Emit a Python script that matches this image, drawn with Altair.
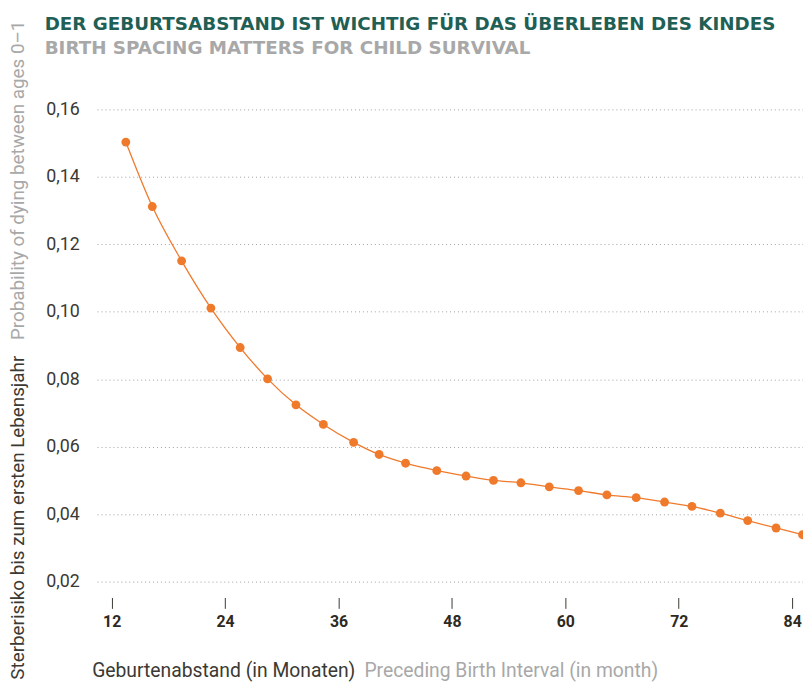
import altair as alt
import pandas as pd

# Data
months = [13.5, 16.3, 19.4, 22.5, 25.6, 28.5, 31.5, 34.4, 37.6, 40.3, 43.1, 46.4, 49.5,
          52.4, 55.3, 58.3, 61.4, 64.4, 67.5, 70.5, 73.4, 76.4, 79.3, 82.3, 85.1]
risk = [0.1503, 0.1312, 0.1151, 0.1011, 0.0894, 0.0801, 0.0724, 0.0666, 0.0613, 0.0577,
        0.0551, 0.0529, 0.0513, 0.0500, 0.0493, 0.0481, 0.0470, 0.0457, 0.0449, 0.0436,
        0.0423, 0.0403, 0.0381, 0.0359, 0.0339]
x_ticks = [12, 24, 36, 48, 60, 72, 84]
y_ticks = [0.02, 0.04, 0.06, 0.08, 0.10, 0.12, 0.14, 0.16]

title_de = "DER GEBURTSABSTAND IST WICHTIG FÜR DAS ÜBERLEBEN DES KINDES"
title_en = "BIRTH SPACING MATTERS FOR CHILD SURVIVAL"
ytitle_de = "Sterberisiko bis zum ersten Lebensjahr"
ytitle_en = "Probability of dying between ages 0–1"
xtitle_de = "Geburtenabstand (in Monaten)"
xtitle_en = "Preceding Birth Interval (in month)"

df = pd.DataFrame({"month": months, "risk": risk})

ORANGE = "#ef7a2c"
DARK = "#3b3933"
LIGHT = "#a8a8a8"
TEAL = "#1f5f55"
FONT = "Roboto"
TFONT = "DejaVu Sans"

x_enc = alt.X("month:Q",
              scale=alt.Scale(domain=[10.46, 85.15], nice=False, zero=False),
              axis=alt.Axis(values=x_ticks, title=None, grid=False, domain=False,
                            ticks=True, offset=16, tickSize=11, tickColor=DARK, tickWidth=1,
                            labelPadding=5, labelFontSize=16, labelFontWeight="bold",
                            labelColor="#2e2a1f", labelFont=FONT, format="d"))
y_enc = alt.Y("risk:Q",
              scale=alt.Scale(domain=[0.02, 0.16], nice=False, zero=False),
              axis=alt.Axis(values=y_ticks, title=None, domain=False, ticks=False,
                            grid=True, gridDash=[1, 3], gridColor="#a0a0a0", gridWidth=1,
                            labelPadding=18, labelFontSize=18, labelColor=DARK,
                            labelFont=FONT,
                            labelExpr="replace(format(datum.value, '.2f'), '.', ',')"))

base = alt.Chart(df)
line = base.mark_line(color=ORANGE, strokeWidth=1.3, interpolate="monotone").encode(x=x_enc, y=y_enc)
pts = base.mark_circle(color=ORANGE, size=80, opacity=1).encode(x="month:Q", y="risk:Q")


def txt(s, x, y, color, size, weight="normal", align="left", angle=0,
        baseline="alphabetic", font=FONT):
    kw = dict(color=color, fontSize=size, fontWeight=weight, font=font, align=align,
              baseline=baseline)
    if angle:
        kw["angle"] = angle
    return alt.Chart(pd.DataFrame({"t": [s]})).mark_text(**kw).encode(
        text="t:N", x=alt.value(x), y=alt.value(y))


texts = [
    txt(title_de, -53, -80, TEAL, 18.5, "bold", font=TFONT),
    txt(title_en, -53, -56, LIGHT, 18.5, "bold", font=TFONT),
    txt(xtitle_de, -5, 573, DARK, 19.5),
    txt(xtitle_en, 270, 573, LIGHT, 19.5),
    txt(ytitle_de, -74, 576, DARK, 19, angle=270),
    txt(ytitle_en, -74, 233, LIGHT, 19, angle=270),
]

chart = alt.layer(line, pts, *texts).properties(
    width=713, height=477,
    autosize=alt.AutoSizeParams(type="none"),
    padding={"left": 90, "top": 99, "right": 0, "bottom": 100},
).configure_view(strokeWidth=0)

chart.save("out.html", embed_options={"renderer": "svg", "actions": False})
